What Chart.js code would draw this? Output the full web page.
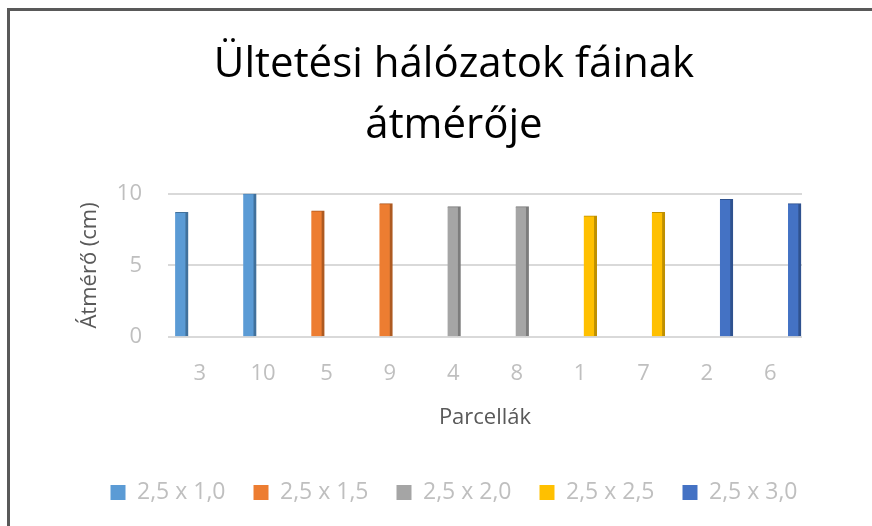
<!DOCTYPE html>
<html>
<head>
<meta charset="utf-8">
<script src="https://cdn.jsdelivr.net/npm/chart.js@4/dist/chart.umd.min.js"></script>
<style>
  html, body { margin: 0; padding: 0; background: #fff; }
  #wrap { position: relative; width: 872px; height: 526px; overflow: hidden; }
  #frame { position: absolute; left: 7px; top: 8px; right: -10px; bottom: -10px;
           border-left: 3px solid #595959; border-top: 3px solid #595959; }
  #chart { position: absolute; left: 0; top: 0; }
</style>
</head>
<body>
<div id="wrap">
  <div id="frame"></div>
  <canvas id="chart" width="872" height="526"></canvas>
</div>
<script>
// parcels in the order they appear on the x axis
const parcels = ['3', '10', '5', '9', '4', '8', '1', '7', '2', '6'];
// planting network of each parcel (index into seriesNames)
const parcelNetwork = [0, 0, 1, 1, 2, 2, 3, 3, 4, 4];
// mean trunk diameter, cm
const diameters = [8.7, 10.0, 8.8, 9.3, 9.1, 9.1, 8.45, 8.7, 9.6, 9.3];

const seriesNames = ['2,5 x 1,0', '2,5 x 1,5', '2,5 x 2,0', '2,5 x 2,5', '2,5 x 3,0'];
const seriesColors = ['#5b9bd5', '#ed7d31', '#a5a5a5', '#ffc000', '#4472c4'];
const sideColors = ['#41719c', '#ae5a21', '#7c7c7c', '#bf9000', '#2f528f'];

const yTicks = [0, 5, 10];

const FONT = "'Open Sans', 'DejaVu Sans', sans-serif";
const tickGrey = '#bfbfbf';
const titleGrey = '#595959';

const datasets = seriesNames.map((name, s) => ({
    label: name,
    data: parcels
        .map((p, i) => ({ x: i, y: diameters[i], s: parcelNetwork[i] }))
        .filter(d => d.s === s),
    backgroundColor: seriesColors[s],
    borderColor: sideColors[s],
    borderWidth: { top: 1, right: 3, bottom: 0, left: 0 },
    borderSkipped: false,
    xAxisID: 'xb',
    yAxisID: 'y'
}));

new Chart(document.getElementById('chart'), {
    type: 'bar',
    data: {
        labels: parcels,
        datasets: datasets
    },
    options: {
        responsive: false,
        animation: false,
        devicePixelRatio: 1,
        grouped: false,
        barThickness: 13,
        layout: {
            padding: { left: 42, right: 6, top: 0, bottom: 12 }
        },
        scales: {
            // category axis that only carries the parcel labels
            x: {
                type: 'category',
                position: 'bottom',
                offset: true,
                grid: { display: false, drawTicks: false },
                border: { display: false },
                ticks: {
                    color: tickGrey,
                    padding: 23,
                    font: { family: FONT, size: 22 }
                },
                title: {
                    display: true,
                    text: 'Parcellák',
                    color: titleGrey,
                    padding: { top: -5, bottom: 22 },
                    font: { family: FONT, size: 22 }
                }
            },
            // hidden axis the bars sit on (3D view pulls series pairs apart)
            xb: {
                type: 'linear',
                display: false,
                offset: false,
                min: -0.2,
                max: 9.11
            },
            y: {
                type: 'linear',
                position: 'left',
                min: 0,
                max: 10,
                afterBuildTicks: (s) => { s.ticks = yTicks.map(v => ({ value: v })); },
                grid: { color: '#d9d9d9', lineWidth: 2, drawTicks: false },
                border: { display: false },
                ticks: {
                    color: tickGrey,
                    padding: 26,
                    font: { family: FONT, size: 22 }
                },
                title: {
                    display: true,
                    text: 'Átmérő (cm)',
                    color: titleGrey,
                    padding: { top: 35, bottom: 0 },
                    font: { family: FONT, size: 22 }
                },
                afterFit: (s) => { s.width = 126; }
            },
            // empty right axis, keeps the plot narrower than the legend row
            yr: {
                type: 'linear',
                position: 'right',
                display: true,
                grid: { display: false },
                border: { display: false },
                ticks: { display: false },
                afterFit: (s) => { s.width = 64; }
            }
        },
        plugins: {
            title: {
                display: true,
                text: ['Ültetési hálózatok fáinak', 'átmérője'],
                color: '#000',
                font: { family: FONT, size: 42, weight: 'normal', lineHeight: 1.46 },
                padding: { top: 34, bottom: 37 }
            },
            legend: {
                position: 'bottom',
                labels: {
                    boxWidth: 15,
                    boxHeight: 15,
                    padding: 28,
                    color: tickGrey,
                    font: { family: FONT, size: 23 },
                    generateLabels: (chart) => Chart.defaults.plugins.legend.labels.generateLabels(chart)
                        .map(item => Object.assign(item, { lineWidth: 0, strokeStyle: 'transparent' }))
                }
            },
            tooltip: { enabled: false }
        }
    }
});
</script>
</body>
</html>
